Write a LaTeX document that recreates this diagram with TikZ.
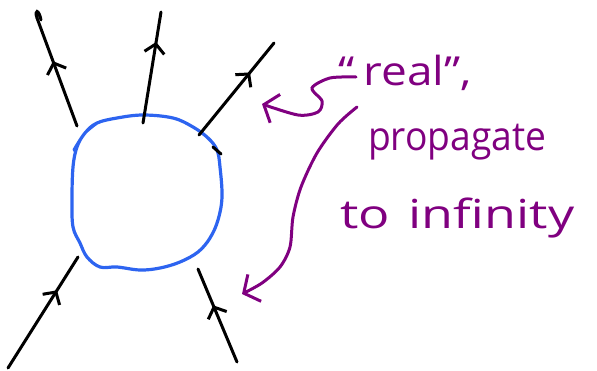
\documentclass[tikz,border=0pt]{standalone}
\usepackage{fontspec}
\usepackage{tikz}
\usetikzlibrary{arrows.meta,decorations.markings,positioning}
\newfontfamily\handfont{Open Sans}
\definecolor{myblue}{RGB}{45,100,240}
\definecolor{mypurple}{RGB}{128,0,128}

\begin{document}
\begin{tikzpicture}[x=1pt, y=-1pt,
  leg/.style={line width=3pt, line cap=round, black},
  midarrow/.style={postaction={decorate, decoration={markings,
      mark=at position #1 with {\arrow{Straight Barb[length=9pt,width=20pt]}}}}},
  loopline/.style={myblue, line width=3.2pt, line cap=round},
  note/.style={mypurple, line width=3pt, line cap=round,
      -{Straight Barb[length=12pt,width=30pt]}},
  notetext/.style={text=mypurple, font=\handfont\fontsize{40}{44}\selectfont,
      anchor=base west, inner sep=0pt}]
  \useasboundingbox (0,0) rectangle (597,370);

  % the loop
  \draw[loopline] plot[smooth, tension=0.6] coordinates {
    (74,150) (85,133) (97,123) (117,118) (143,115) (173,118) (193,127)
    (208,138) (217,150) (220,167) (222,197) (218,220) (210,238) (198,252)
    (180,262) (160,268) (140,270) (117,267) (100,267) (87,257) (80,243)
    (73,227) (72,200) (73,167) (77,147) (85,133) (97,123)};

  % external legs
  \coordinate (a1) at (77,126);  \coordinate (b1) at (37,18);
  \coordinate (a2) at (143,123); \coordinate (b2) at (161,12);
  \coordinate (a3) at (199,135); \coordinate (b3) at (274,43);
  \coordinate (a4) at (8,368);   \coordinate (b4) at (78,257);
  \coordinate (a5) at (237,362); \coordinate (b5) at (198,269);
  \foreach \s/\t/\p in {a1/b1/0.6, a2/b2/0.73, a3/b3/0.68, a4/b4/0.7, a5/b5/0.61}
    \draw[leg, midarrow=\p] (\s) -- (\t);
  \draw[leg] (b1) .. controls (34,9) and (39,9) .. (41,20);
  \draw[leg] (213,147) -- (221,154);

  % labels
  \node[notetext, xscale=1.15] (real) at (338,85) {“\hspace{8pt}real”,};
  \node[notetext, xscale=0.93] (prop) at (368,150) {propagate};
  \node[notetext, xscale=1.3] (infty) at (340,228) {to\hspace{4pt} infinity};

  \coordinate (realtail) at (356,77);
  \coordinate (realhead) at (262,104);
  \coordinate (proptail) at (357,107);
  \coordinate (prophead) at (242,294);
  \draw[note] plot[smooth] coordinates {(realtail) (330,78) (312,88) (322,101)
    (318,112) (298,115) (realhead)};
  \draw[note] plot[smooth] coordinates {(proptail) (338,124) (317,153) (301,187)
    (293,217) (290,247) (280,267) (262,283) (prophead)};
\end{tikzpicture}
\end{document}
